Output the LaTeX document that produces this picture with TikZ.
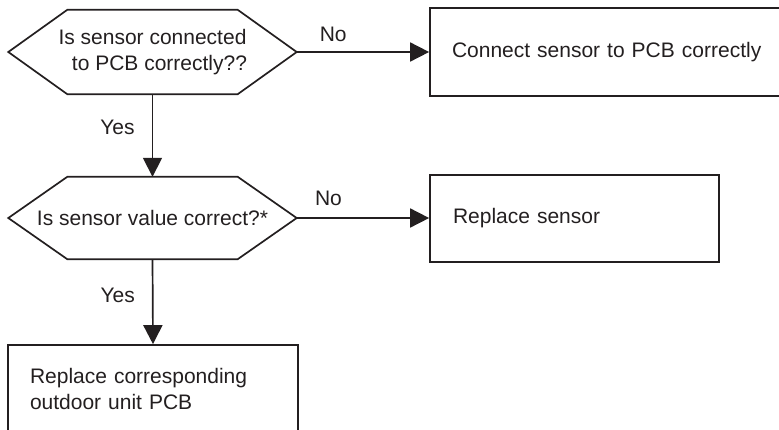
\documentclass[tikz,border=0pt]{standalone}
\usepackage{fontspec}
\setmainfont{Liberation Sans}
\usetikzlibrary{arrows.meta}
\definecolor{ink}{HTML}{231F20}
\tikzset{
  txt/.style={font=\fontsize{21}{26}\selectfont, text=ink},
  decision/.style={txt, align=center, inner sep=0pt, minimum width=288pt, minimum height=84pt},
  hexline/.style={draw=ink, line width=1.7pt, line join=miter},
  actbox/.style={txt, draw=ink, line width=1.7pt, align=left, inner ysep=0pt, inner xsep=22pt, minimum height=87pt},
  flow/.style={draw=ink, line width=1.7pt, -{Triangle[length=19pt,width=19pt]}},
  lbl/.style={txt, inner sep=0pt}
}
\begin{document}
\begin{tikzpicture}[x=1pt,y=-1pt]
\useasboundingbox (0,0) rectangle (779,429);
% decisions
\node[decision] (q1) at (152.5,52) {Is sensor connected\\ \hspace*{14pt}to PCB correctly??};
\draw[hexline] (q1.west) -- ([xshift=59pt]q1.north west) -- ([xshift=-59pt]q1.north east) -- (q1.east) -- ([xshift=-59pt]q1.south east) -- ([xshift=59pt]q1.south west) -- cycle;
\node[decision, minimum height=82pt] (q2) at (152.5,218) {Is sensor value correct?*};
\draw[hexline] (q2.west) -- ([xshift=59pt]q2.north west) -- ([xshift=-59pt]q2.north east) -- (q2.east) -- ([xshift=-59pt]q2.south east) -- ([xshift=59pt]q2.south west) -- cycle;
% actions
\node[actbox, text width=316pt, minimum height=88pt] (a1) at (610,52) {Connect sensor to PCB correctly};
\node[actbox, inner xsep=23pt, text width=243pt] (a2) at (574.5,218.5) {Replace sensor};
\node[actbox, text width=246pt] (a3) at (153,388.5) {Replace corresponding\\outdoor unit PCB};
% connectors
\draw[flow] (q1.east) -- (a1.west) node[lbl, pos=0.276, yshift=18pt] {No};
\draw[flow] (q2.east) -- (a2.west |- q2.east) node[lbl, pos=0.24, yshift=20pt] {No};
\draw[flow] (q1.south) -- (q2.north) node[lbl, pos=0.4, xshift=-35pt] {Yes};
\draw[flow] (q2.south) -- (a3.north) node[lbl, pos=0.42, xshift=-35pt] {Yes};
\end{tikzpicture}
\end{document}
